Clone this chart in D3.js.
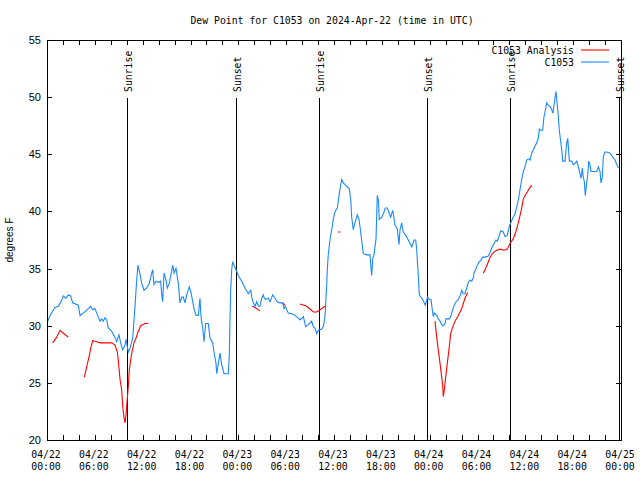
<!DOCTYPE html>
<html><head><meta charset="utf-8">
<script src="https://cdn.jsdelivr.net/npm/d3@7"></script>
<style>body{margin:0;background:#fff}text{fill:#000}</style>
</head><body>
<svg id="c" width="640" height="480"></svg>
<script>
// ---- DATA ----
const titleText = "Dew Point for C1053 on 2024-Apr-22 (time in UTC)";
const yLabelText = "degrees F";
// hours since 2024-04-22 00:00 UTC
const obsHours = [0.04,0.38,1.00,1.42,1.84,2.04,2.38,2.67,2.97,3.22,3.93,4.14,4.55,5.18,5.48,5.73,6.02,6.23,6.65,6.86,7.06,7.28,7.49,7.69,8.12,8.53,8.74,9.03,9.24,9.50,9.78,9.91,10.07,10.20,10.41,10.75,11.04,11.25,11.41,11.67,11.88,12.17,12.51,12.83,13.13,13.26,13.42,13.67,13.96,14.26,14.39,14.51,14.68,14.93,15.09,15.34,15.52,15.77,15.93,16.18,16.27,16.47,16.68,16.90,17.10,17.31,17.52,17.85,18.03,18.28,18.44,18.69,18.98,19.19,19.32,19.53,19.69,19.91,20.23,20.45,20.79,20.95,21.20,21.29,21.49,21.70,21.91,22.20,22.74,22.87,22.96,23.04,23.17,23.29,23.46,23.71,24.00,24.42,24.84,25.25,25.55,25.68,25.88,26.09,26.31,26.51,26.72,26.93,27.13,27.26,27.47,27.76,27.97,28.31,28.60,28.89,29.22,29.57,29.73,29.89,30.07,30.27,30.90,31.32,31.74,32.15,32.45,32.78,33.20,33.41,33.62,33.83,34.03,34.46,34.66,34.87,35.09,35.16,35.29,35.50,35.71,35.91,36.13,36.42,36.67,36.84,36.97,37.17,37.59,37.92,38.10,38.22,38.42,38.55,38.76,38.92,39.14,39.35,39.48,39.68,40.10,40.52,40.64,40.73,40.86,41.02,41.27,41.43,41.56,41.68,41.99,42.19,42.44,42.69,42.94,43.11,43.37,43.65,43.94,44.16,44.28,44.49,44.69,45.03,45.32,45.75,46.04,46.25,46.38,46.58,46.70,47.13,47.45,47.75,47.96,48.17,48.33,48.46,48.58,48.88,49.08,49.30,49.51,49.71,49.93,50.05,50.47,50.64,50.89,51.09,51.31,51.59,51.81,52.02,52.22,52.43,52.65,52.85,53.06,53.27,53.48,53.56,53.81,53.98,54.23,54.40,54.65,54.94,55.36,55.57,55.78,56.07,56.32,56.49,56.74,56.91,57.24,57.45,57.74,57.99,58.17,58.42,58.71,58.92,59.12,59.33,59.55,59.75,59.96,60.17,60.38,60.59,60.80,61.00,61.21,61.43,61.63,61.76,61.93,62.18,62.34,62.47,62.68,62.88,63.10,63.31,63.44,63.60,63.72,63.85,63.94,64.01,64.14,64.26,64.44,64.60,64.69,64.98,65.19,65.32,65.44,65.52,65.82,66.02,66.23,66.45,66.65,66.86,66.99,67.15,67.27,67.40,67.52,67.70,67.83,67.95,68.11,68.24,68.53,68.95,69.16,69.37,69.49,69.66,69.78,69.99,70.21,70.62,71.04,71.25,71.47,71.67];
const obsDewpt = [30.3,30.9,31.6,31.7,32.2,32.6,32.4,32.7,32.6,32.0,31.8,30.9,31.1,31.5,31.7,31.4,31.5,31.1,30.4,30.6,30.4,30.7,30.5,29.8,29.5,29.0,28.6,29.2,28.5,27.9,28.3,28.8,28.2,27.7,28.0,28.9,31.7,34.0,35.3,34.5,33.7,33.1,33.3,33.7,34.6,34.9,33.6,33.9,33.8,33.9,32.7,32.1,34.6,34.0,33.3,33.7,34.4,35.3,34.6,35.0,34.6,33.7,32.0,32.5,32.5,32.0,32.7,33.4,33.0,32.1,31.5,30.9,30.9,32.4,30.8,29.8,28.6,30.2,30.2,28.9,28.5,27.7,26.7,25.8,26.7,27.6,26.6,25.8,25.8,27.4,30.8,33.1,34.9,35.6,35.3,34.9,34.4,33.9,33.3,32.8,33.1,32.5,32.0,31.7,32.1,31.7,31.7,32.4,32.7,32.4,32.3,32.4,32.1,32.7,32.4,32.1,32.0,32.0,31.5,31.7,31.4,31.1,31.0,30.8,30.5,30.8,29.9,30.1,30.4,29.9,29.8,29.3,29.6,29.7,29.9,30.8,33.7,34.9,36.3,37.5,38.4,39.3,40.0,40.3,41.6,42.3,42.8,42.5,42.2,42.0,41.0,39.5,38.4,38.8,39.3,39.7,39.3,38.2,37.4,36.3,36.2,36.2,35.0,34.4,35.9,36.2,37.6,41.4,41.0,39.3,39.5,39.8,40.3,40.3,39.8,39.5,40.1,38.8,38.5,37.1,38.4,39.0,38.2,37.9,37.5,36.9,37.5,37.5,36.6,34.3,32.7,32.3,31.8,32.5,32.3,32.3,31.4,30.8,31.1,30.9,30.6,30.4,30.1,30.0,30.2,30.6,30.6,30.8,31.4,31.8,32.1,32.3,32.6,33.1,32.8,32.8,33.3,33.8,34.0,33.9,34.2,34.6,35.0,35.3,35.6,35.7,36.0,36.0,36.1,36.4,36.8,37.2,37.5,37.4,37.9,38.3,38.2,37.8,37.9,38.7,39.0,39.4,39.8,40.4,41.0,41.9,42.8,43.5,43.9,44.5,44.6,44.5,45.1,45.4,45.7,46.0,46.4,47.2,47.1,47.1,48.3,48.7,49.5,49.3,49.2,48.9,48.6,49.3,49.9,50.5,49.8,49.3,48.3,47.1,46.1,45.2,44.4,44.4,46.0,46.4,45.2,44.4,44.4,44.1,44.2,44.4,43.9,43.3,42.9,43.8,43.0,42.6,41.4,42.5,43.2,44.4,44.1,43.5,43.5,43.5,43.9,43.5,42.5,43.0,44.8,45.2,45.2,45.1,44.7,44.5,44.1,43.8];
// analysis series (null = gap)
const anaHours = [0.72,1.22,1.63,2.13,2.67,3.5,4.68,4.98,5.31,5.48,5.73,6.23,6.65,8.12,8.53,8.82,8.94,9.16,9.37,9.50,9.66,9.78,9.91,10.07,10.20,10.32,10.50,10.66,10.91,11.16,11.45,11.75,12.29,12.71,19.0,25.75,26.09,26.72,28.0,29.57,29.85,30.8,31.74,32.58,33.41,33.83,34.25,34.87,35.8,36.67,42.0,48.67,48.88,49.08,49.30,49.51,49.64,49.71,49.84,50.01,50.21,50.47,50.64,50.89,51.18,51.59,52.02,52.43,52.77,53.8,54.73,55.07,55.36,55.66,55.98,56.41,56.82,57.33,57.74,58.08,58.49,58.71,59.00,59.25,59.55,59.75,59.96,60.25,60.50,60.80];
const anaDewpt = [28.5,29.0,29.6,29.3,29.0,null,25.5,26.4,27.4,28.0,28.7,28.6,28.5,28.5,28.3,27.7,27.0,25.3,24.4,22.9,22.0,21.5,22.2,23.6,24.7,26.1,27.0,27.7,28.5,28.9,29.5,30.0,30.2,30.2,null,31.7,31.6,31.3,null,32.0,31.8,null,31.9,31.7,31.2,31.2,31.4,31.7,null,38.2,null,30.4,29.0,27.9,26.7,25.5,24.7,23.8,24.4,25.5,26.7,28.2,29.3,29.9,30.4,30.9,31.5,32.4,32.9,null,34.6,35.1,35.6,36.1,36.4,36.6,36.7,36.6,36.7,37.2,37.6,38.0,38.7,39.4,40.3,41.1,41.4,41.7,42.0,42.3];
const sunHours = [10.07,23.67,34.16,47.70,58.12,71.75];
const sunLabels = ["Sunrise","Sunset","Sunrise","Sunset","Sunrise","Sunset"];
const xTickHours = [0,6,12,18,24,30,36,42,48,54,60,66,72];
const xTickDates = ["04/22","04/22","04/22","04/22","04/23","04/23","04/23","04/23","04/24","04/24","04/24","04/24","04/25"];
const xTickTimes = ["00:00","06:00","12:00","18:00","00:00","06:00","12:00","18:00","00:00","06:00","12:00","18:00","00:00"];
const yTicks = [20,25,30,35,40,45,50,55];
const seriesNames = ["C1053 Analysis","C1053"];
const seriesColors = ["#ff0000","#1a88ff"];

// ---- CHART ----
const svg = d3.select("#c");
const L=47,R=621,T=40,B=440;
const x = d3.scaleLinear().domain([0,72]).range([L,R]);
const y = d3.scaleLinear().domain([20,55]).range([B,T]);
const mono = "'DejaVu Sans Mono', monospace";
const sans = "'Liberation Sans', Arial, sans-serif";

svg.append("rect").attr("width",640).attr("height",480).attr("fill","#fff");

svg.append("text").attr("x",332).attr("y",24).attr("text-anchor","middle")
  .style("font-family",mono).style("font-size","9.8px").text(titleText);

svg.append("text").attr("transform","translate(13,240) rotate(-90)").attr("text-anchor","middle")
  .style("font-family",sans).style("font-size","10px").text(yLabelText);

const minorX = d3.range(0,73,2);
const gA = svg.append("g").attr("shape-rendering","crispEdges").attr("stroke","#000");
minorX.forEach(h=>{
  gA.append("line").attr("x1",Math.round(x(h))+0.5).attr("x2",Math.round(x(h))+0.5).attr("y1",B).attr("y2",B-5);
  gA.append("line").attr("x1",Math.round(x(h))+0.5).attr("x2",Math.round(x(h))+0.5).attr("y1",T).attr("y2",T+5);
});
yTicks.forEach(v=>{
  const yy=Math.round(y(v))+0.5;
  gA.append("line").attr("x1",L).attr("x2",L+5).attr("y1",yy).attr("y2",yy);
  gA.append("line").attr("x1",R-5).attr("x2",R).attr("y1",yy).attr("y2",yy);
});

yTicks.forEach(v=>{
  svg.append("text").attr("x",41).attr("y",y(v)+4).attr("text-anchor","end")
    .style("font-family",sans).style("font-size","11px").text(v);
});
xTickHours.forEach((h,i)=>{
  svg.append("text").attr("x",x(h)-1).attr("y",458).attr("text-anchor","middle")
    .style("font-family",mono).style("font-size","9.8px").text(xTickDates[i]);
  svg.append("text").attr("x",x(h)-1).attr("y",470).attr("text-anchor","middle")
    .style("font-family",mono).style("font-size","9.8px").text(xTickTimes[i]);
});

sunHours.forEach((h,i)=>{
  const xx=Math.round(x(h))+0.5;
  svg.append("line").attr("x1",xx).attr("x2",xx).attr("y1",98).attr("y2",B)
    .attr("stroke","#000").attr("stroke-width",1.2).attr("shape-rendering","crispEdges");
  svg.append("text").attr("transform",`translate(${xx+4},92) rotate(-90)`)
    .style("font-family",mono).style("font-size","9.8px").text(sunLabels[i]);
});

const line = d3.line().defined(d=>d.v!=null).x(d=>x(d.h)).y(d=>y(d.v));
const ana = anaHours.map((h,i)=>({h,v:anaDewpt[i]}));
const obs = obsHours.map((h,i)=>({h,v:obsDewpt[i]}));
svg.append("path").attr("d",line(ana)).attr("fill","none").attr("stroke",seriesColors[0]).attr("stroke-width",1.1);
ana.forEach((d,i)=>{
  if(d.v!=null && (i==0||ana[i-1].v==null) && (i==ana.length-1||ana[i+1].v==null)){
    svg.append("rect").attr("x",x(d.h)-1).attr("y",y(d.v)-0.6).attr("width",2).attr("height",1.2).attr("fill",seriesColors[0]);
  }
});
svg.append("path").attr("d",line(obs)).attr("fill","none").attr("stroke",seriesColors[1]).attr("stroke-width",1.1);

svg.append("rect").attr("x",L+0.5).attr("y",T+0.5).attr("width",R-L).attr("height",B-T)
  .attr("fill","none").attr("stroke","#000").attr("shape-rendering","crispEdges");

seriesNames.forEach((n,i)=>{
  const ly=50+i*12;
  svg.append("text").attr("x",574).attr("y",ly+3.5).attr("text-anchor","end")
    .style("font-family",mono).style("font-size","9.8px").text(n);
  svg.append("line").attr("x1",581).attr("x2",609).attr("y1",ly).attr("y2",ly)
    .attr("stroke",seriesColors[i]).attr("stroke-width",1.1);
});
</script></body></html>
